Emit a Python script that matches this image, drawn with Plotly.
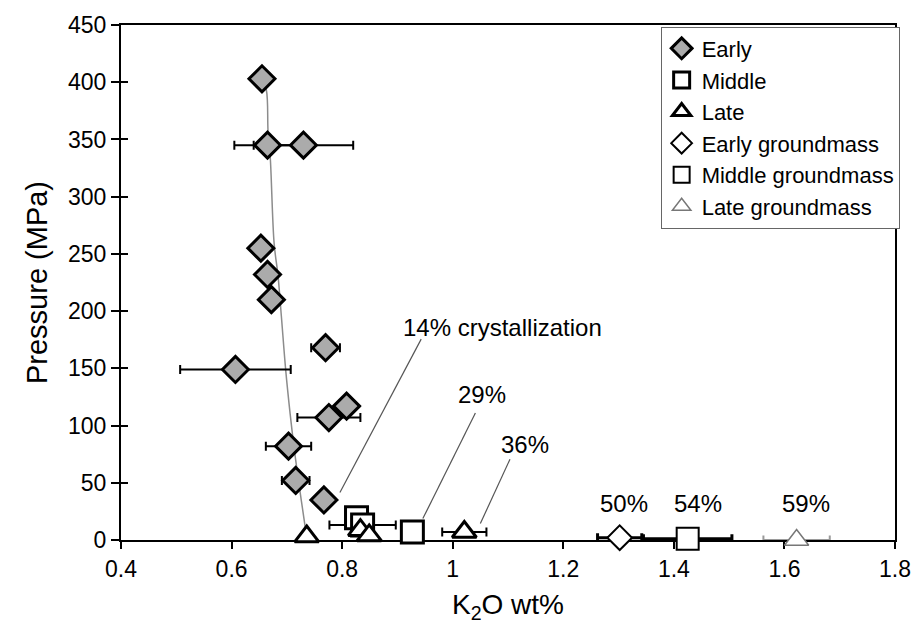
import plotly.graph_objects as go

# K2O (wt%) and pressure (MPa) for each population
early_k2o = [0.655, 0.665, 0.730, 0.653, 0.665, 0.672, 0.770, 0.607, 0.808, 0.776, 0.703, 0.716, 0.767]
early_p = [403, 345, 345, 255, 232, 210, 168, 149, 117, 107, 82, 52, 35]
early_err = [0, 0.06, 0.09, 0, 0, 0, 0.026, 0.10, 0, 0.057, 0.041, 0.025, 0]

middle_k2o = [0.826, 0.837, 0.927]
middle_p = [19.5, 13, 7]
middle_err = [0, 0.06, 0]

late_k2o = [0.736, 0.833, 0.849, 1.021]
late_p = [3, 8.6, 4, 7]
late_err = [0, 0, 0, 0.04]

early_gm_k2o, early_gm_p, early_gm_err = [1.302], [2], [0.04]
middle_gm_k2o, middle_gm_p, middle_gm_err = [1.425], [1], [0.08]
late_gm_k2o, late_gm_p, late_gm_err = [1.622], [0], [0.06]

# crystallization trend through the early melt inclusions
trend_k2o = [0.655, 0.663, 0.666, 0.670, 0.677, 0.684, 0.690, 0.698, 0.706, 0.713, 0.721, 0.733, 0.736]
trend_p = [403, 393, 357, 334, 259, 231, 196, 148, 110, 81, 52, 12, 3]

# crystallization labels and their leader lines
label_text = ["14% crystallization", "29%", "36%", "50%", "54%", "59%"]
label_x = [1.0905, 1.053, 1.130, 1.309, 1.443, 1.639]
label_y = [186, 127, 83.5, 31.7, 31.7, 31.7]
leader_x0 = [0.943, 1.041, 1.1036]
leader_y0 = [175.5, 111, 70.6]
leader_x1 = [0.796, 0.946, 1.05]
leader_y1 = [41.5, 18.7, 14.4]

x_range = [0.4, 1.8]
y_range = [0, 450]

FONT = "Liberation Sans, Arial, sans-serif"

fig = go.Figure()

fig.add_trace(go.Scatter(
    x=trend_k2o, y=trend_p, mode="lines", line=dict(color="#8c8c8c", width=1.5, shape="spline"),
    showlegend=False, hoverinfo="skip"))


def err(vals, color="black", thick=2, cap=9):
    return dict(type="data", array=vals, visible=True, color=color, thickness=thick, width=cap / 2)


fig.add_trace(go.Scatter(
    x=early_k2o, y=early_p, mode="markers", name="Early", cliponaxis=False,
    error_x=err(early_err),
    marker=dict(symbol="diamond", size=20, color="#ababab", line=dict(color="black", width=3))))

fig.add_trace(go.Scatter(
    x=middle_k2o, y=middle_p, mode="markers", name="Middle", cliponaxis=False,
    error_x=err(middle_err),
    marker=dict(symbol="square", size=22, color="white", line=dict(color="black", width=3))))

fig.add_trace(go.Scatter(
    x=late_k2o, y=late_p, mode="markers", name="Late", cliponaxis=False,
    error_x=err(late_err),
    marker=dict(symbol="triangle-up", size=21, color="white", line=dict(color="black", width=3))))

fig.add_trace(go.Scatter(
    x=early_gm_k2o, y=early_gm_p, mode="markers", name="Early groundmass", cliponaxis=False,
    error_x=err(early_gm_err, thick=3),
    marker=dict(symbol="diamond", size=19, color="white", line=dict(color="black", width=2))))

fig.add_trace(go.Scatter(
    x=middle_gm_k2o, y=middle_gm_p, mode="markers", name="Middle groundmass", cliponaxis=False,
    error_x=err(middle_gm_err, thick=3),
    marker=dict(symbol="square", size=22, color="white", line=dict(color="black", width=2))))

fig.add_trace(go.Scatter(
    x=late_gm_k2o, y=late_gm_p, mode="markers", name="Late groundmass", cliponaxis=False,
    error_x=err(late_gm_err, color="#9a9a9a", thick=2),
    marker=dict(symbol="triangle-up", size=21, color="white", line=dict(color="#777777", width=1.5))))

# invisible trace that carries the inner half of the y ticks
fig.add_trace(go.Scatter(x=[None], y=[None], yaxis="y2", showlegend=False, hoverinfo="skip"))

for t, x, y in zip(label_text, label_x, label_y):
    fig.add_annotation(x=x, y=y, text=t, showarrow=False, xanchor="center", yanchor="middle",
                       font=dict(family=FONT, size=24, color="black"))

for x0, y0, x1, y1 in zip(leader_x0, leader_y0, leader_x1, leader_y1):
    fig.add_shape(type="line", x0=x0, y0=y0, x1=x1, y1=y1, xref="x", yref="y",
                  line=dict(color="#555555", width=1.2))

fig.update_layout(
    width=923, height=631,
    margin=dict(l=121, r=18, t=19, b=91),
    paper_bgcolor="white", plot_bgcolor="white",
    font=dict(family=FONT, size=23, color="black"),
    xaxis=dict(range=x_range, dtick=0.2, tick0=0.4, showgrid=False, zeroline=False,
               showline=True, linecolor="black", linewidth=2, mirror=True,
               ticks="outside", ticklen=7, tickwidth=2, tickcolor="black",
               tickfont=dict(size=23), layer="below traces",
               title=dict(text="K<sub>2</sub>O wt%", font=dict(size=28), standoff=14)),
    yaxis=dict(range=y_range, dtick=50, showgrid=False, zeroline=False,
               showline=True, linecolor="black", linewidth=2, mirror=True,
               ticks="outside", ticklen=8, tickwidth=2, tickcolor="black",
               tickfont=dict(size=23), layer="below traces",
               title=dict(text="Pressure (MPa)", font=dict(size=29), standoff=12)),
    yaxis2=dict(range=y_range, dtick=50, overlaying="y", side="left", showgrid=False,
                zeroline=False, showline=False, showticklabels=False,
                ticks="inside", ticklen=7, tickwidth=2, tickcolor="black"),
    legend=dict(x=1.006, y=0.997, xanchor="right", yanchor="top",
                bgcolor="white", bordercolor="#666666", borderwidth=1,
                font=dict(family=FONT, size=22, color="black"),
                tracegroupgap=0, itemwidth=30),
)

fig.write_html("out.html")
